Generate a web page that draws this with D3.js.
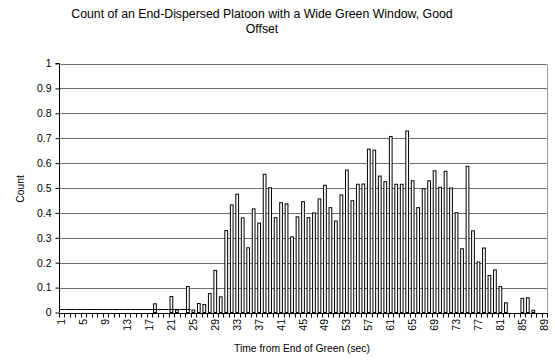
<!DOCTYPE html>
<html>
<head>
<meta charset="utf-8">
<script src="https://cdn.jsdelivr.net/npm/d3@7/dist/d3.min.js"></script>
<style>
  html, body { margin: 0; padding: 0; background: #fff; }
  svg { display: block; font-family: "Liberation Sans", Arial, sans-serif; }
</style>
</head>
<body>
<svg id="chart" width="555" height="362"></svg>
<script>
// ---- data ----
const titleLines = ["Count of an End-Dispersed Platoon with a Wide Green Window, Good", "Offset"];
const xTitle = "Time from End of Green (sec)";
const yTitle = "Count";
const categories = d3.range(1, 90); // 1..89 seconds
const counts = [
  0,0,0,0,0,0,0,0,0,0,            // 1-10
  0,0,0,0,0,0,0,0.035,0,0,        // 11-20
  0.064,0.01,0,0.104,0.01,0.036,0.032,0.076,0.169,0.063, // 21-30
  0.329,0.432,0.475,0.38,0.26,0.416,0.359,0.555,0.501,0.381, // 31-40
  0.441,0.436,0.304,0.384,0.445,0.381,0.40,0.456,0.511,0.421, // 41-50
  0.367,0.472,0.572,0.449,0.515,0.516,0.656,0.652,0.548,0.525, // 51-60
  0.707,0.515,0.515,0.729,0.529,0.421,0.497,0.529,0.569,0.503, // 61-70
  0.567,0.50,0.401,0.256,0.587,0.328,0.203,0.259,0.149,0.171,  // 71-80
  0.104,0.039,0,0,0.057,0.059,0.009,0,0                        // 81-89
];
// faint low-count trace along the floor (seconds 1-25)
const lowCategories = d3.range(1, 26);
const lowValues = lowCategories.map(() => 0.012);
const yTicks = [0,0.1,0.2,0.3,0.4,0.5,0.6,0.7,0.8,0.9,1];
const xTickLabels = [1,5,9,13,17,21,25,29,33,37,41,45,49,53,57,61,65,69,73,77,81,85,89];

// ---- layout ----
const svg = d3.select("#chart");
const m = { left: 59, right: 547, top: 63.5, bottom: 312.5 };

const x = d3.scaleBand().domain(categories).range([m.left, m.right])
  .paddingInner(0.5).paddingOuter(0.25);
const y = d3.scaleLinear().domain([0, 1]).range([m.bottom, m.top]);

// title
svg.append("text")
  .attr("x", 262).attr("y", 18)
  .attr("text-anchor", "middle").attr("font-size", 12.3)
  .selectAll("tspan").data(titleLines).join("tspan")
  .attr("x", 262).attr("dy", (d, i) => i === 0 ? 0 : 15)
  .text(d => d);

// gridlines
svg.append("g").selectAll("line").data(yTicks.filter(t => t > 0)).join("line")
  .attr("x1", m.left).attr("x2", m.right)
  .attr("y1", d => Math.round(y(d)) + 0.5).attr("y2", d => Math.round(y(d)) + 0.5)
  .attr("stroke", "#6e6e6e").attr("stroke-width", 1);

// right border of plot area
svg.append("line")
  .attr("x1", m.right + 0.5).attr("x2", m.right + 0.5)
  .attr("y1", Math.round(y(1)) + 0.5).attr("y2", m.bottom)
  .attr("stroke", "#9a9a9a");

// bars
svg.append("g").selectAll("rect").data(categories.map((c, i) => ({ c, v: counts[i] })).filter(d => d.v > 0))
  .join("rect")
  .attr("x", d => x(d.c))
  .attr("width", x.bandwidth())
  .attr("y", d => y(d.v))
  .attr("height", d => y(0) - y(d.v))
  .attr("fill", "#ffffff").attr("stroke", "#000").attr("stroke-width", 1);

// low trace
const step = x.step();
const lowLine = d3.line()
  .x(d => x(d.c) - step * x.paddingInner() / 2)
  .y(d => y(d.v))
  .curve(d3.curveStepAfter);
svg.append("path")
  .datum(lowCategories.map((c, i) => ({ c, v: lowValues[i] })))
  .attr("d", lowLine)
  .attr("fill", "none").attr("stroke", "#000").attr("stroke-width", 1);

// y axis
const yAxis = d3.axisLeft(y).tickValues(yTicks).tickSize(4).tickPadding(4)
  .tickFormat(d => d3.format("")(+d.toFixed(1)));
const gy = svg.append("g").attr("transform", `translate(${m.left + 0.5},0)`).call(yAxis);
gy.selectAll("text").attr("font-size", 10.5).attr("fill", "#000").attr("font-family", "Liberation Sans, Arial, sans-serif");
gy.selectAll("line").attr("stroke", "#000");
gy.select(".domain").attr("stroke", "#000").attr("d", `M-4,${y(1)}H0V${m.bottom}`);

// x axis baseline
svg.append("line")
  .attr("x1", m.left).attr("x2", m.right + 1)
  .attr("y1", Math.round(y(0)) + 0.5).attr("y2", Math.round(y(0)) + 0.5)
  .attr("stroke", "#000");

// x tick marks at category boundaries
const boundaries = categories.map(c => x(c) - step * x.paddingInner() / 2).concat([m.right]);
svg.append("g").selectAll("line").data(boundaries).join("line")
  .attr("x1", d => Math.round(d) + 0.5).attr("x2", d => Math.round(d) + 0.5)
  .attr("y1", Math.round(y(0)) + 0.5).attr("y2", Math.round(y(0)) + 4.5)
  .attr("stroke", "#000");

// x tick labels (rotated)
svg.append("g").selectAll("text").data(xTickLabels).join("text")
  .attr("transform", d => `translate(${x(d) + x.bandwidth() / 2 + 3.5},319) rotate(-90)`)
  .attr("text-anchor", "end").attr("font-size", 10.5)
  .text(d => d);

// axis titles
svg.append("text").attr("x", 302).attr("y", 352)
  .attr("text-anchor", "middle").attr("font-size", 10.3).text(xTitle);
svg.append("text")
  .attr("transform", `translate(24,189) rotate(-90)`)
  .attr("text-anchor", "middle").attr("font-size", 10.3).text(yTitle);
</script>
</body>
</html>
